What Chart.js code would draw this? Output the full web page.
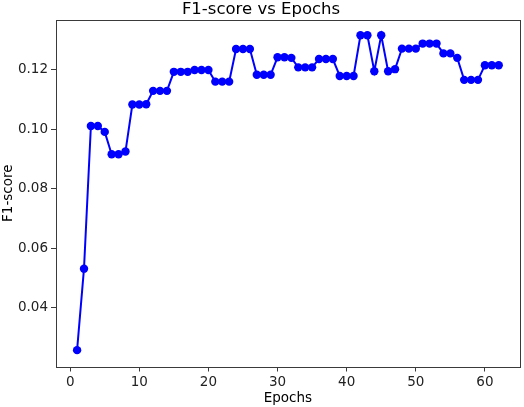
<!DOCTYPE html>
<html>
<head>
<meta charset="utf-8">
<script src="https://cdn.jsdelivr.net/npm/chart.js@4"></script>
<style>
  html, body { margin: 0; padding: 0; background: #fff; }
  #wrap { width: 524px; height: 407px; }
</style>
</head>
<body>
<div id="wrap"><canvas id="f1Chart" width="524" height="407"></canvas></div>
<script>
// data
const epochs = [];
for (let i = 1; i <= 62; i++) epochs.push(i);
const f1Scores = [
  0.0257, 0.0531, 0.1011, 0.1011, 0.0991, 0.0916, 0.0916, 0.0925, 0.1083, 0.1083,
  0.1084, 0.1129, 0.1129, 0.1129, 0.1193, 0.1193, 0.1193, 0.1199, 0.1199, 0.1199,
  0.1160, 0.1160, 0.1160, 0.1270, 0.1270, 0.1270, 0.1183, 0.1183, 0.1183, 0.1242,
  0.1242, 0.1240, 0.1208, 0.1208, 0.1208, 0.1236, 0.1236, 0.1236, 0.1179, 0.1179,
  0.1179, 0.1316, 0.1316, 0.1195, 0.1316, 0.1195, 0.1202, 0.1271, 0.1271, 0.1271,
  0.1288, 0.1288, 0.1288, 0.1255, 0.1255, 0.1240, 0.1166, 0.1166, 0.1166, 0.1215,
  0.1215, 0.1215
];
const xTicks = [0, 10, 20, 30, 40, 50, 60];
const yTicks = [0.04, 0.06, 0.08, 0.10, 0.12];

const fontFam = '"DejaVu Sans", sans-serif';
const axisCol = '#3a3a3a';

// matplotlib style box round the plot
const frame = {
  id: 'frame',
  afterDraw(chart) {
    const a = chart.chartArea, c = chart.ctx;
    c.save();
    c.strokeStyle = axisCol;
    c.lineWidth = 1;
    c.strokeRect(Math.round(a.left) + 0.5, Math.round(a.top) + 0.5,
                 Math.round(a.right - a.left), Math.round(a.bottom - a.top));
    c.restore();
  }
};

new Chart(document.getElementById('f1Chart'), {
  type: 'line',
  data: {
    datasets: [{
      data: epochs.map((e, i) => ({ x: e, y: f1Scores[i] })),
      borderColor: '#0000ff',
      backgroundColor: '#0000ff',
      borderWidth: 2,
      pointRadius: 4.2,
      pointBorderWidth: 0,
      tension: 0
    }]
  },
  options: {
    responsive: false,
    animation: false,
    layout: { padding: { left: 0, right: 2, top: 0, bottom: 0 } },
    plugins: {
      legend: { display: false },
      tooltip: { enabled: false },
      title: {
        display: true,
        text: 'F1-score vs Epochs',
        color: '#000',
        font: { family: fontFam, size: 16.5, weight: 'normal' },
        padding: { top: 0, bottom: 0 }
      }
    },
    scales: {
      x: {
        type: 'linear',
        min: -2.05,
        max: 65.05,
        afterBuildTicks: s => { s.ticks = xTicks.map(v => ({ value: v })); },
        afterFit: s => { s.height = 40.5; },
        grid: { display: true, drawOnChartArea: false, tickLength: 5, color: axisCol },
        border: { display: false },
        ticks: { color: '#222', padding: 3, font: { family: fontFam, size: 13.5 } },
        title: { display: true, text: 'Epochs', color: '#000', padding: 0,
                 font: { family: fontFam, size: 13.5 } }
      },
      y: {
        min: 0.0202,
        max: 0.1368,
        afterBuildTicks: s => { s.ticks = yTicks.map(v => ({ value: v })); },
        afterFit: s => { s.width = 56; },
        grid: { display: true, drawOnChartArea: false, tickLength: 5, color: axisCol },
        border: { display: false },
        ticks: { color: '#222', padding: 3, font: { family: fontFam, size: 13.5 },
                 callback: v => v.toFixed(2) },
        title: { display: true, text: 'F1-score', color: '#000', padding: 0,
                 font: { family: fontFam, size: 13.5 } }
      }
    }
  },
  plugins: [frame]
});
</script>
</body>
</html>
